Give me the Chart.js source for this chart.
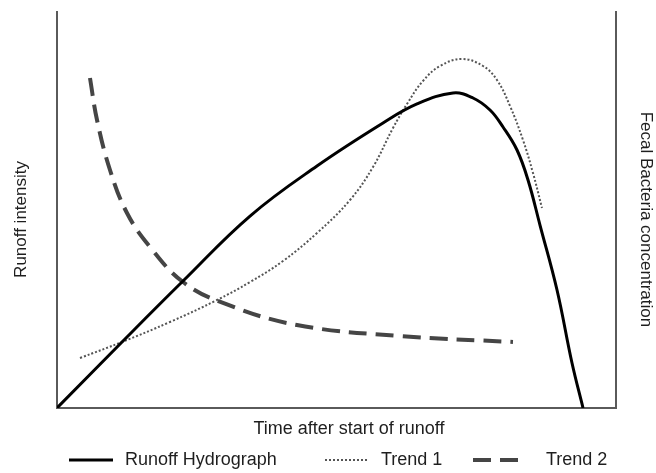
<!DOCTYPE html>
<html>
<head>
<meta charset="utf-8">
<script src="https://cdn.jsdelivr.net/npm/chart.js@4"></script>
<style>
  html, body { margin: 0; padding: 0; background: #fff; }
  #wrap { width: 656px; height: 473px; }
</style>
</head>
<body>
<div id="wrap"><canvas id="runoffChart"></canvas></div>
<script>
// values (time and intensity in 0-100 units)
const runoffX = [0, 11.63, 22.54, 34.53, 46.51, 58.32, 64.40, 70.84, 74.42, 77.46, 79.79, 82.29, 84.26, 86.40, 89.45, 92.13, 94.10];
const runoffY = [0, 16.67, 32.07, 48.48, 61.11, 71.97, 76.77, 79.55, 78.28, 75.25, 70.96, 65.15, 57.58, 46.21, 29.80, 11.36, 0];

const trend1X = [4.11, 11.63, 20.21, 28.62, 34.53, 40.43, 46.51, 52.42, 56.53, 60.11, 62.61, 65.47, 68.52, 72.45, 76.21, 78.71, 81.04, 83.36, 85.15, 86.76];
const trend1Y = [12.63, 16.67, 21.72, 27.27, 31.82, 37.12, 44.19, 52.53, 60.86, 70.71, 76.77, 82.58, 86.36, 88.13, 86.36, 82.83, 76.26, 67.68, 59.34, 50.51];

const trend2X = [5.90, 7.16, 9.48, 12.52, 16.64, 22.54, 29.70, 42.93, 61.36, 81.57];
const trend2Y = [83.33, 72.73, 60.10, 49.24, 40.66, 31.82, 26.52, 20.96, 18.18, 16.67];

const seriesNames = ["Runoff Hydrograph", "Trend 1", "Trend 2"];

function toPoints(xs, ys) {
    return xs.map((x, i) => ({ x: x, y: ys[i] }));
}

const FONT = "'Liberation Sans', Arial, sans-serif";
const TEXT = "#1e1e1e";
const AXIS = "#5a5a5a";

// legend drawn under the x title, sample line + label per series
const bottomLegend = {
    id: "bottomLegend",
    afterDraw(chart) {
        const ctx = chart.ctx;
        const y = 460;
        const items = [
            { x0: 69, x1: 113, tx: 125 },
            { x0: 325, x1: 369, tx: 381 },
            { x0: 473, x1: 521, tx: 546 }
        ];
        ctx.save();
        chart.data.datasets.forEach((ds, i) => {
            const it = items[i];
            ctx.strokeStyle = ds.borderColor;
            ctx.lineWidth = ds.borderWidth;
            ctx.setLineDash(ds.borderDash || []);
            ctx.beginPath();
            ctx.moveTo(it.x0, y);
            ctx.lineTo(it.x1, y);
            ctx.stroke();
            ctx.setLineDash([]);
            ctx.fillStyle = TEXT;
            ctx.font = "18px " + FONT;
            ctx.textBaseline = "middle";
            ctx.fillText(ds.label, it.tx, y);
        });
        ctx.restore();
    }
};

function createRunoffChart() {

    const ctx = document.getElementById("runoffChart");
    if (!ctx) return;

    new Chart(ctx, {
        type: "line",
        data: {
            datasets: [
                {
                    label: seriesNames[0],
                    data: toPoints(runoffX, runoffY),
                    borderColor: "#000000",
                    borderWidth: 3,
                    yAxisID: "y"
                },
                {
                    label: seriesNames[1],
                    data: toPoints(trend1X, trend1Y),
                    borderColor: "#555555",
                    borderWidth: 2,
                    borderDash: [2, 2],
                    yAxisID: "y2"
                },
                {
                    label: seriesNames[2],
                    data: toPoints(trend2X, trend2Y),
                    borderColor: "#454545",
                    borderWidth: 4,
                    borderDash: [18, 9],
                    yAxisID: "y2"
                }
            ]
        },
        options: {
            responsive: true,
            maintainAspectRatio: false,
            animation: false,
            layout: { padding: { top: 12, bottom: 31, left: 0, right: 0 } },
            elements: {
                point: { radius: 0 },
                line: { tension: 0.4, fill: false }
            },
            plugins: {
                legend: { display: false },
                tooltip: { enabled: false }
            },
            scales: {
                x: {
                    type: "linear",
                    min: 0,
                    max: 100,
                    grid: { display: false },
                    border: { display: true, color: AXIS, width: 2 },
                    ticks: { display: false },
                    title: {
                        display: true,
                        text: "     Time after start of runoff",
                        color: TEXT,
                        font: { family: FONT, size: 18 },
                        padding: { top: 0, bottom: 2 }
                    },
                    afterFit(scale) { scale.height = 34; }
                },
                y: {
                    position: "left",
                    min: 0,
                    max: 100,
                    grid: { display: false },
                    border: { display: true, color: AXIS, width: 2 },
                    ticks: { display: false },
                    title: {
                        display: true,
                        text: "Runoff intensity    ",
                        color: TEXT,
                        font: { family: FONT, size: 17 },
                        padding: { top: 11, bottom: 0 }
                    },
                    afterFit(scale) { scale.width = 57; }
                },
                y2: {
                    position: "right",
                    min: 0,
                    max: 100,
                    grid: { display: false },
                    border: { display: true, color: AXIS, width: 2 },
                    ticks: { display: false },
                    title: {
                        display: true,
                        text: "    Fecal Bacteria concentration",
                        color: TEXT,
                        font: { family: FONT, size: 17 },
                        padding: { top: 0, bottom: 0 }
                    },
                    afterFit(scale) { scale.width = 40; }
                }
            }
        },
        plugins: [bottomLegend]
    });
}

createRunoffChart();
</script>
</body>
</html>
